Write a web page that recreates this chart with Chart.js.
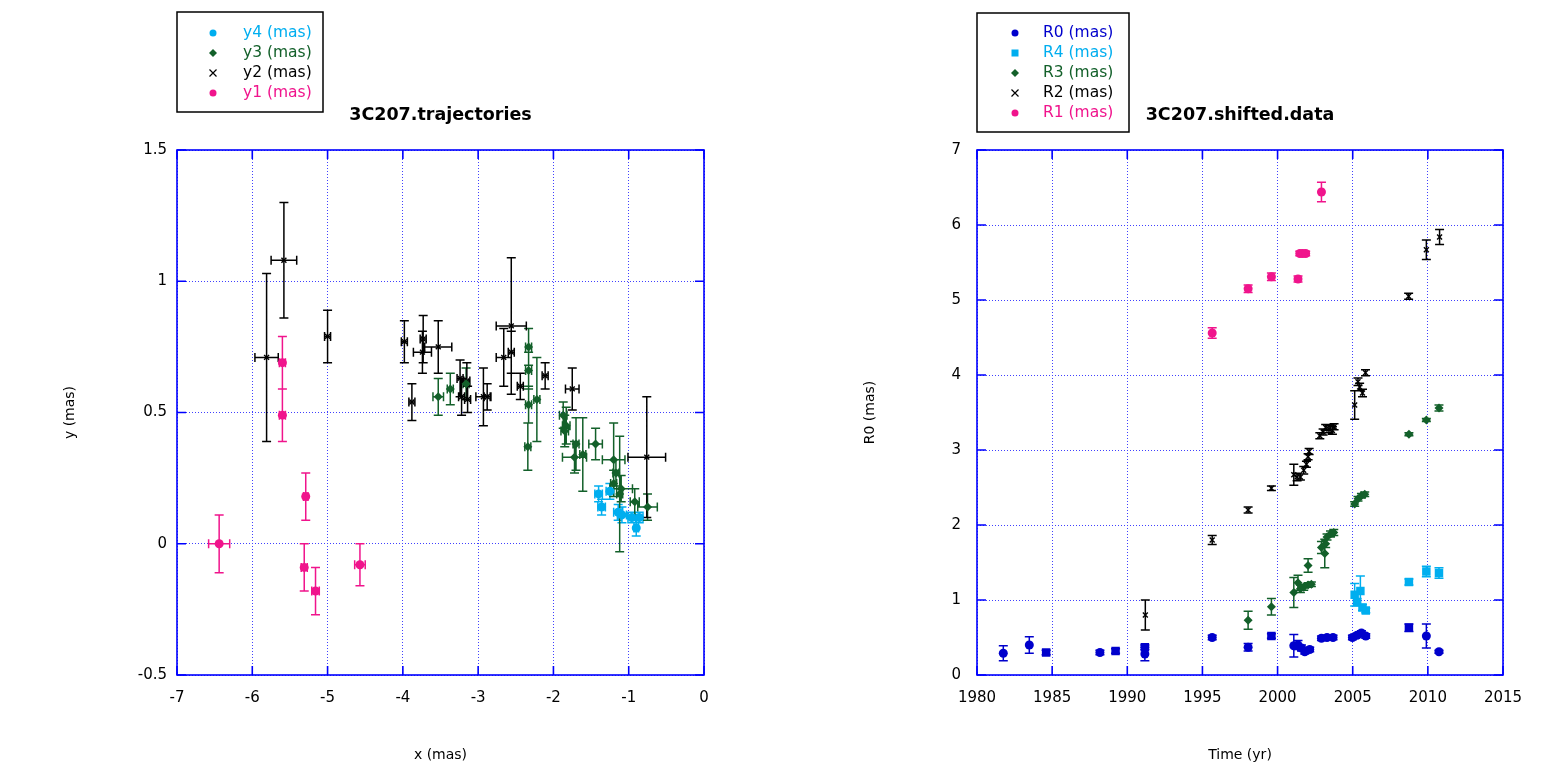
<!DOCTYPE html>
<html>
<head>
<meta charset="utf-8">
<script src="https://cdn.jsdelivr.net/npm/chart.js@4/dist/chart.umd.min.js"></script>
<style>
  html, body { margin: 0; padding: 0; background: #fff; }
  .panel { position: absolute; top: 0; width: 777px; height: 769px; }
</style>
</head>
<body>
<div class="panel" style="left:0"><canvas id="trajChart"></canvas></div>
<div class="panel" style="left:777px"><canvas id="shiftChart"></canvas></div>
<script>
// ---- left panel: [x, y, xerr, yerr] in mas ----
const y4Points = [
  [-1.40, 0.19, 0.05, 0.03], [-1.25, 0.20, 0.05, 0.03], [-1.36, 0.14, 0.05, 0.03],
  [-1.14, 0.12, 0.06, 0.03], [-1.09, 0.11, 0.06, 0.03], [-0.96, 0.10, 0.05, 0.02],
  [-0.86, 0.10, 0.05, 0.02], [-0.90, 0.06, 0.03, 0.03]
];
const y3Points = [
  [-3.53, 0.56, 0.07, 0.07], [-3.37, 0.59, 0.04, 0.06], [-3.16, 0.61, 0.04, 0.06],
  [-2.33, 0.75, 0.04, 0.07], [-2.33, 0.66, 0.04, 0.07], [-2.33, 0.53, 0.04, 0.07],
  [-2.34, 0.37, 0.04, 0.09], [-2.22, 0.55, 0.04, 0.16], [-1.87, 0.49, 0.05, 0.05],
  [-1.83, 0.45, 0.05, 0.07], [-1.85, 0.43, 0.05, 0.06], [-1.70, 0.38, 0.04, 0.10],
  [-1.72, 0.33, 0.16, 0.06], [-1.61, 0.34, 0.04, 0.14], [-1.44, 0.38, 0.09, 0.06],
  [-1.20, 0.32, 0.15, 0.14], [-1.17, 0.27, 0.04, 0.05], [-1.20, 0.23, 0.04, 0.05],
  [-1.10, 0.21, 0.15, 0.05], [-1.12, 0.19, 0.04, 0.22], [-0.92, 0.16, 0.06, 0.05],
  [-0.75, 0.14, 0.13, 0.05]
];
const y2Points = [
  [-5.81, 0.71, 0.155, 0.32], [-5.58, 1.08, 0.17, 0.22], [-5.00, 0.79, 0.04, 0.10],
  [-3.98, 0.77, 0.04, 0.08], [-3.88, 0.54, 0.04, 0.07], [-3.73, 0.78, 0.04, 0.09],
  [-3.74, 0.73, 0.12, 0.08], [-3.53, 0.75, 0.18, 0.10], [-3.24, 0.63, 0.04, 0.07],
  [-3.15, 0.62, 0.04, 0.07], [-3.22, 0.56, 0.04, 0.07], [-3.14, 0.55, 0.04, 0.05],
  [-2.93, 0.56, 0.10, 0.11], [-2.88, 0.56, 0.04, 0.05], [-2.66, 0.71, 0.10, 0.11],
  [-2.56, 0.83, 0.20, 0.26], [-2.56, 0.73, 0.04, 0.08], [-2.44, 0.60, 0.04, 0.05],
  [-2.11, 0.64, 0.04, 0.05], [-1.75, 0.59, 0.09, 0.08], [-0.76, 0.33, 0.25, 0.23]
];
const y1Points = [
  [-6.44, 0.00, 0.14, 0.11], [-5.60, 0.69, 0.04, 0.10], [-5.60, 0.49, 0.04, 0.10],
  [-5.29, 0.18, 0.03, 0.09], [-5.31, -0.09, 0.04, 0.09], [-5.16, -0.18, 0.05, 0.09],
  [-4.57, -0.08, 0.07, 0.08]
];
const xTicksTraj = [-7, 0, 1];      // min, max, step
const yTicksTraj = [-0.5, 1.5, 0.5];

// ---- right panel: [year, R (mas), R error] ----
const r0Points = [
  [1981.75, 0.29, 0.10], [1983.48, 0.40, 0.11], [1988.18, 0.30, 0.03], [1991.17, 0.28, 0.09],
  [1995.65, 0.50, 0.03], [1998.04, 0.37, 0.05], [2001.08, 0.39, 0.15], [2001.36, 0.40, 0.06],
  [2001.59, 0.36, 0.04], [2001.81, 0.31, 0.03], [2002.14, 0.34, 0.03], [2002.92, 0.49, 0.03],
  [2003.29, 0.50, 0.03], [2003.69, 0.50, 0.03], [2004.98, 0.50, 0.03], [2005.29, 0.53, 0.03],
  [2005.58, 0.56, 0.03], [2005.87, 0.52, 0.03], [2009.90, 0.52, 0.16], [2010.74, 0.31, 0.02]
];
const r0SquarePoints = [
  [1984.60, 0.30, 0.03], [1989.22, 0.32, 0.03], [1991.17, 0.37, 0.03],
  [1999.59, 0.52, 0.03], [2008.74, 0.63, 0.05]
];
const r4Points = [
  [2005.13, 1.07, 0.15], [2005.51, 1.12, 0.20], [2005.29, 0.97, 0.05], [2005.65, 0.90, 0.04],
  [2005.87, 0.86, 0.03], [2008.74, 1.24, 0.04], [2009.90, 1.38, 0.07], [2010.74, 1.36, 0.07]
];
const r3Points = [
  [1998.04, 0.73, 0.12], [1999.59, 0.91, 0.11], [2001.08, 1.10, 0.20], [2001.36, 1.23, 0.10],
  [2001.52, 1.15, 0.05], [2001.74, 1.17, 0.04], [2002.03, 1.20, 0.03], [2002.25, 1.21, 0.03],
  [2002.03, 1.46, 0.09], [2002.92, 1.70, 0.08], [2003.14, 1.62, 0.19], [2003.20, 1.75, 0.05],
  [2003.29, 1.84, 0.04], [2003.52, 1.88, 0.04], [2003.74, 1.90, 0.04], [2005.13, 2.28, 0.03],
  [2005.35, 2.35, 0.03], [2005.58, 2.39, 0.03], [2005.80, 2.41, 0.03], [2008.74, 3.21, 0.02],
  [2009.90, 3.40, 0.02], [2010.74, 3.56, 0.04]
];
const r2Points = [
  [1991.20, 0.80, 0.20], [1995.65, 1.80, 0.06], [1998.04, 2.20, 0.04], [1999.59, 2.49, 0.03],
  [2001.08, 2.67, 0.14], [2001.30, 2.64, 0.05], [2001.52, 2.64, 0.04], [2001.74, 2.73, 0.05],
  [2001.92, 2.81, 0.04], [2002.03, 2.91, 0.04], [2002.10, 2.98, 0.04], [2002.81, 3.19, 0.04],
  [2003.03, 3.24, 0.04], [2003.20, 3.30, 0.04], [2003.42, 3.28, 0.05], [2003.65, 3.26, 0.05],
  [2003.76, 3.31, 0.04], [2005.13, 3.60, 0.19], [2005.35, 3.91, 0.05], [2005.46, 3.84, 0.05],
  [2005.65, 3.76, 0.05], [2005.85, 4.03, 0.04], [2008.72, 5.05, 0.04], [2009.90, 5.67, 0.13],
  [2010.78, 5.84, 0.10]
];
const r1Points = [
  [1995.65, 4.56, 0.07], [1998.04, 5.15, 0.05], [1999.59, 5.31, 0.05], [2001.36, 5.28, 0.04],
  [2001.48, 5.62, 0.03], [2001.67, 5.62, 0.03], [2001.87, 5.62, 0.03], [2002.92, 6.44, 0.13]
];
const xTicksTime = [1980, 2015, 5];
const yTicksTime = [0, 7, 1];

const PINK = '#f0148c', CYAN = '#00aeef', GREEN = '#13602a', BLUE = '#0000cc', BLACK = '#000';
const FRAME = '#0000ff', GRID = '#4040ff';

Chart.defaults.font.family = "'DejaVu Sans', sans-serif";
Chart.defaults.color = '#000';
Chart.defaults.animation = false;

const xy = rows => rows.map(r => ({ x: r[0], y: r[1], dx: r[2], dy: r[3] }));
const ty = rows => rows.map(r => ({ x: r[0], y: r[1], dx: 0, dy: r[2] }));

function series(label, data, color, style, radius, inLegend = true) {
  const cross = style === 'crossRot';
  return {
    label, data, pointStyle: style, pointRadius: radius, pointHoverRadius: radius,
    backgroundColor: color, borderColor: color, borderWidth: cross ? 1.4 : 0,
    showLine: false, inLegend
  };
}

// error bars with end caps, drawn through the chart's own scales
const errorBars = {
  id: 'errorBars',
  beforeDatasetsDraw(chart) {
    const { ctx, scales: { x, y } } = chart;
    const cap = 4.5;
    chart.data.datasets.forEach((ds, i) => {
      if (!chart.isDatasetVisible(i)) return;
      ctx.save();
      ctx.strokeStyle = ds.borderColor;
      ctx.lineWidth = 1.5;
      ctx.beginPath();
      ds.data.forEach(p => {
        const px = x.getPixelForValue(p.x), py = y.getPixelForValue(p.y);
        if (p.dy) {
          const a = y.getPixelForValue(p.y - p.dy), b = y.getPixelForValue(p.y + p.dy);
          ctx.moveTo(px, a); ctx.lineTo(px, b);
          ctx.moveTo(px - cap, a); ctx.lineTo(px + cap, a);
          ctx.moveTo(px - cap, b); ctx.lineTo(px + cap, b);
        }
        if (p.dx) {
          const a = x.getPixelForValue(p.x - p.dx), b = x.getPixelForValue(p.x + p.dx);
          ctx.moveTo(a, py); ctx.lineTo(b, py);
          ctx.moveTo(a, py - cap); ctx.lineTo(a, py + cap);
          ctx.moveTo(b, py - cap); ctx.lineTo(b, py + cap);
        }
      });
      ctx.stroke();
      ctx.restore();
    });
  }
};

// solid frame with inward tick marks on all four sides
const frame = {
  id: 'frame',
  beforeDatasetsDraw(chart) {
    const { ctx, chartArea: a, scales: { x, y } } = chart;
    const tl = 9;
    ctx.save();
    ctx.strokeStyle = FRAME;
    ctx.lineWidth = 1.6;
    ctx.beginPath();
    x.ticks.forEach(t => {
      const px = x.getPixelForValue(t.value);
      ctx.moveTo(px, a.bottom); ctx.lineTo(px, a.bottom - tl);
      ctx.moveTo(px, a.top); ctx.lineTo(px, a.top + tl);
    });
    y.ticks.forEach(t => {
      const py = y.getPixelForValue(t.value);
      ctx.moveTo(a.left, py); ctx.lineTo(a.left + tl, py);
      ctx.moveTo(a.right, py); ctx.lineTo(a.right - tl, py);
    });
    ctx.stroke();
    ctx.strokeRect(a.left, a.top, a.right - a.left, a.bottom - a.top);
    ctx.restore();
  }
};

function marker(ctx, style, color, cx, cy) {
  ctx.fillStyle = color; ctx.strokeStyle = color; ctx.lineWidth = 1.2;
  ctx.beginPath();
  if (style === 'circle') { ctx.arc(cx, cy, 3.5, 0, Math.PI * 2); ctx.fill(); }
  else if (style === 'rect') { ctx.fillRect(cx - 3.5, cy - 3.5, 7, 7); }
  else if (style === 'rectRot') {
    ctx.moveTo(cx, cy - 4); ctx.lineTo(cx + 4, cy); ctx.lineTo(cx, cy + 4); ctx.lineTo(cx - 4, cy);
    ctx.closePath(); ctx.fill();
  } else {
    ctx.moveTo(cx - 3.5, cy - 3.5); ctx.lineTo(cx + 3.5, cy + 3.5);
    ctx.moveTo(cx + 3.5, cy - 3.5); ctx.lineTo(cx - 3.5, cy + 3.5);
    ctx.stroke();
  }
}

// boxed legend in the top-left corner, text coloured like the series
const boxLegend = {
  id: 'boxLegend',
  afterDraw(chart, args, o) {
    const ctx = chart.ctx;
    ctx.save();
    ctx.strokeStyle = '#000';
    ctx.lineWidth = 1.5;
    ctx.strokeRect(o.x, o.y, o.w, o.h);
    ctx.font = "15.5px 'DejaVu Sans', sans-serif";
    ctx.textBaseline = 'middle';
    let row = 0;
    chart.data.datasets.forEach(ds => {
      if (!ds.inLegend) return;
      const cy = o.y + o.first + row * 20;
      marker(ctx, ds.pointStyle, ds.borderColor, o.x + o.markX, cy);
      ctx.fillStyle = ds.borderColor;
      ctx.fillText(ds.label, o.x + o.textX, cy);
      row++;
    });
    ctx.restore();
  }
};

function axis(range, title, titlePad, tickPad, fit, fmt) {
  return {
    type: 'linear', min: range[0], max: range[1],
    ticks: { stepSize: range[2], padding: tickPad, font: { size: 15 }, color: '#000',
             callback: fmt || (v => String(v)) },
    grid: { color: GRID, lineWidth: 1, drawTicks: false },
    border: { display: false, dash: [1, 2] },
    title: { display: true, text: title, font: { size: 14 }, color: '#000', padding: titlePad },
    afterFit: fit
  };
}

function plotOptions(cfg) {
  return {
    responsive: true,
    maintainAspectRatio: false,
    layout: { padding: { top: 0, left: 0, bottom: 0, right: cfg.right } },
    plugins: {
      legend: { display: false },
      tooltip: { enabled: false },
      title: {
        display: true, text: cfg.title, fullSize: false, color: '#000',
        font: { size: 17.5, weight: 'bold' }, padding: { top: 105, bottom: 24 }
      },
      boxLegend: cfg.legend
    },
    scales: {
      x: axis(cfg.xr, cfg.xTitle, { top: 0, bottom: 5.5 }, 14, s => { s.height = 94; }),
      y: axis(cfg.yr, cfg.yTitle, { top: cfg.yTitleOff, bottom: 0 }, cfg.yPad, s => { s.width = cfg.left; })
    }
  };
}

new Chart(document.getElementById('trajChart'), {
  type: 'scatter',
  data: {
    datasets: [
      series('y4 (mas)', xy(y4Points), CYAN, 'circle', 4.5),
      series('y3 (mas)', xy(y3Points), GREEN, 'rectRot', 4.5),
      series('y2 (mas)', xy(y2Points), BLACK, 'crossRot', 3.5),
      series('y1 (mas)', xy(y1Points), PINK, 'circle', 4.5)
    ]
  },
  options: plotOptions({
    title: '3C207.trajectories', right: 73, left: 177,
    xr: xTicksTraj, yr: yTicksTraj, xTitle: 'x (mas)', yTitle: 'y (mas)',
    yTitleOff: 62, yPad: 10,
    legend: { x: 177, y: 12, w: 146, h: 100, first: 21, markX: 36, textX: 66 }
  }),
  plugins: [errorBars, frame, boxLegend]
});

new Chart(document.getElementById('shiftChart'), {
  type: 'scatter',
  data: {
    datasets: [
      series('R0 (mas)', ty(r0Points), BLUE, 'circle', 4.5),
      series('R4 (mas)', ty(r4Points), CYAN, 'rect', 6),
      series('R3 (mas)', ty(r3Points), GREEN, 'rectRot', 4.5),
      series('R2 (mas)', ty(r2Points), BLACK, 'crossRot', 3.5),
      series('R1 (mas)', ty(r1Points), PINK, 'circle', 4.5),
      series('R0 (mas)', ty(r0SquarePoints), BLUE, 'rect', 6, false)
    ]
  },
  options: plotOptions({
    title: '3C207.shifted.data', right: 51, left: 200,
    xr: xTicksTime, yr: yTicksTime, xTitle: 'Time (yr)', yTitle: 'R0 (mas)',
    yTitleOff: 85, yPad: 16,
    legend: { x: 200, y: 13, w: 152, h: 119, first: 20, markX: 38, textX: 66 }
  }),
  plugins: [errorBars, frame, boxLegend]
});
</script>
</body>
</html>
